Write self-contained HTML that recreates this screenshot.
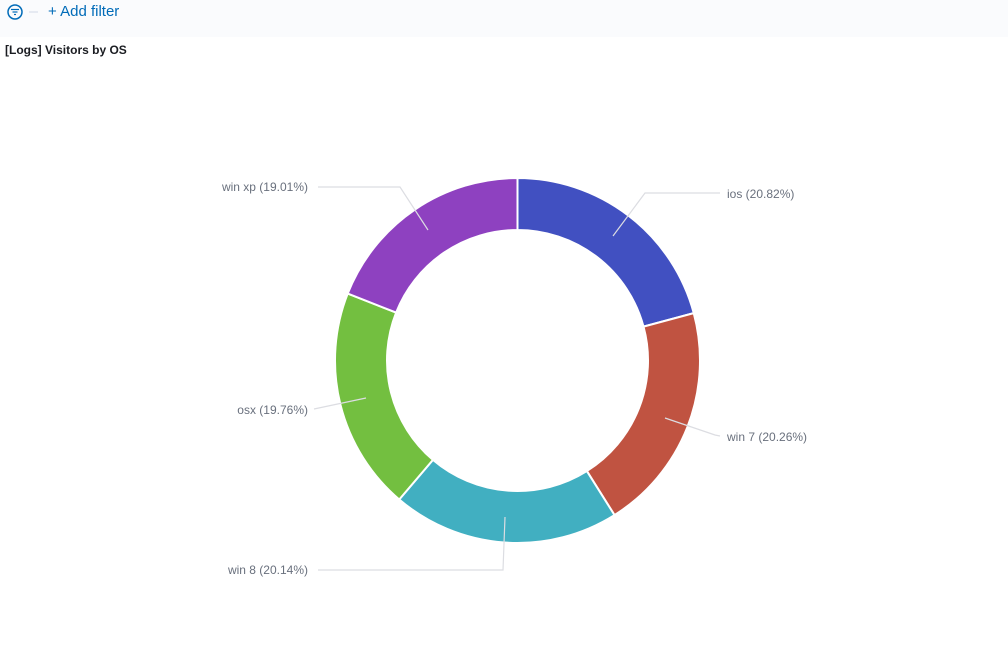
<!DOCTYPE html>
<html><head><style>
body{margin:0;width:1008px;height:645px;background:#fff;font-family:"Liberation Sans",sans-serif;overflow:hidden;position:relative}
.bar{position:absolute;left:0;top:0;width:1008px;height:37px;background:#fafbfd}
.add{position:absolute;left:48px;top:3px;font-size:15px;color:#006bb8}
.title{position:absolute;left:5px;top:43px;font-size:12px;font-weight:bold;color:#1a1c21}
</style></head><body>
<div class="bar"></div>
<svg style="position:absolute;left:0;top:0" width="40" height="30">
<circle cx="15" cy="12" r="7" fill="none" stroke="#006bb8" stroke-width="1.5"/>
<line x1="11" y1="9.5" x2="19" y2="9.5" stroke="#006bb8" stroke-width="1.2"/>
<line x1="12.5" y1="12" x2="17.5" y2="12" stroke="#006bb8" stroke-width="1.2"/>
<line x1="14" y1="14.5" x2="16" y2="14.5" stroke="#006bb8" stroke-width="1.2"/>
<line x1="29" y1="12" x2="38" y2="12" stroke="#d3dae6" stroke-width="1"/>
</svg>
<div class="add">+ Add filter</div>
<div class="title">[Logs] Visitors by OS</div>
<svg id="c" style="position:absolute;left:0;top:0" width="1008" height="645">
<g id="s"></g>
<g stroke="#dcdde2" stroke-width="1.2" fill="none">
<polyline points="613,236 645,193 720,193"/>
<polyline points="665,418 715,435 720,436"/>
<polyline points="505,517 503,570 318,570"/>
<polyline points="366,398 314,409"/>
<polyline points="428,230 400,187 318,187"/>
</g>
<g font-size="12" fill="#69707d" font-family="Liberation Sans, sans-serif">
<text x="727" y="198">ios (20.82%)</text>
<text x="727" y="441">win 7 (20.26%)</text>
<text x="308" y="574" text-anchor="end">win 8 (20.14%)</text>
<text x="308" y="414" text-anchor="end">osx (19.76%)</text>
<text x="308" y="191" text-anchor="end">win xp (19.01%)</text>
</g>
</svg>
<script>
var d=[[20.82,"#4150c1"],[20.26,"#c05341"],[20.14,"#41afc1"],[19.76,"#73bf40"],[19.02,"#8e41c0"]];
var cx=517.5,cy=360.5,R=182.5,r=130.5,a=0,h="";
function p(rad,t){return [cx+rad*Math.sin(t),cy-rad*Math.cos(t)];}
d.forEach(function(x){var b=a+x[0]/100*2*Math.PI;var l=(b-a)>Math.PI?1:0;
var A=p(R,a),B=p(R,b),C=p(r,b),D=p(r,a);
h+='<path d="M'+A+' A'+R+' '+R+' 0 '+l+' 1 '+B+' L'+C+' A'+r+' '+r+' 0 '+l+' 0 '+D+'Z" fill="'+x[1]+'" stroke="#fff" stroke-width="2"/>';a=b;});
document.getElementById("s").innerHTML=h;
</script>
</body></html>
